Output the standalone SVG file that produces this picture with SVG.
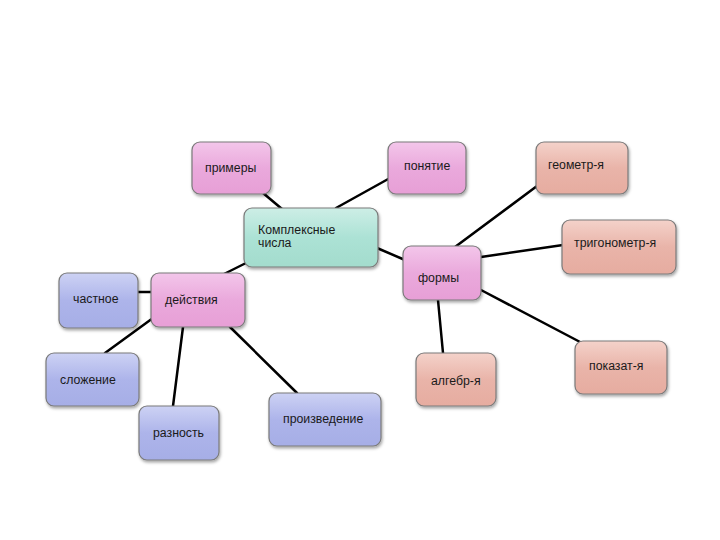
<svg xmlns="http://www.w3.org/2000/svg" width="720" height="540" viewBox="0 0 720 540">
<defs>
<linearGradient id="gPink" x1="0" y1="0" x2="0" y2="1"><stop offset="0" stop-color="#f3c6ea"/><stop offset="0.5" stop-color="#eaa9dc"/><stop offset="1" stop-color="#e79fd6"/></linearGradient>
<linearGradient id="gTeal" x1="0" y1="0" x2="0" y2="1"><stop offset="0" stop-color="#cdeee6"/><stop offset="0.5" stop-color="#ace2d5"/><stop offset="1" stop-color="#a3dccd"/></linearGradient>
<linearGradient id="gBlue" x1="0" y1="0" x2="0" y2="1"><stop offset="0" stop-color="#cdd2f4"/><stop offset="0.5" stop-color="#adb4ea"/><stop offset="1" stop-color="#a6aee6"/></linearGradient>
<linearGradient id="gSalmon" x1="0" y1="0" x2="0" y2="1"><stop offset="0" stop-color="#f4d2ca"/><stop offset="0.5" stop-color="#e9b4a9"/><stop offset="1" stop-color="#e6aca0"/></linearGradient>
<filter id="sh" x="-20%" y="-20%" width="140%" height="150%"><feDropShadow dx="1" dy="2" stdDeviation="1.5" flood-color="#000" flood-opacity="0.35"/></filter>
</defs>
<style>
.n{stroke:#7a7a7a;stroke-width:1.2;filter:url(#sh)}
.pink{fill:url(#gPink)}
.teal{fill:url(#gTeal)}
.blue{fill:url(#gBlue)}
.salmon{fill:url(#gSalmon)}
text{font-family:"Liberation Sans",Arial,sans-serif;font-size:12.3px;fill:#1a1a1a}
.c line{stroke:#000;stroke-width:2.5;stroke-linecap:round}
</style>
<g class="c" id="connectors">
<line x1="263" y1="193" x2="282" y2="209"/>
<line x1="390" y1="178" x2="336" y2="208"/>
<line x1="377" y1="248" x2="405" y2="260"/>
<line x1="248" y1="262" x2="222" y2="275"/>
<line x1="455" y1="247" x2="537" y2="186"/>
<line x1="481" y1="257" x2="563" y2="245"/>
<line x1="481" y1="290" x2="582" y2="343"/>
<line x1="438" y1="300" x2="443" y2="353"/>
<line x1="138" y1="292" x2="152" y2="292"/>
<line x1="153" y1="318" x2="105" y2="353"/>
<line x1="183" y1="327" x2="173" y2="406"/>
<line x1="230" y1="327" x2="297" y2="393"/>
</g>
<g id="n-primery"><rect class="n pink" x="192" y="142" width="79" height="52" rx="8"/><text x="205" y="172">примеры</text></g>
<g id="n-ponyatie"><rect class="n pink" x="388" y="142" width="78" height="52" rx="8"/><text x="404" y="170">понятие</text></g>
<g id="n-geometr"><rect class="n salmon" x="536" y="142" width="92" height="52" rx="8"/><text x="548" y="169">геометр-я</text></g>
<g id="n-complex"><rect class="n teal" x="244" y="208" width="134" height="59" rx="8"/><text x="258" y="234">Комплексные</text><text x="258" y="247">числа</text></g>
<g id="n-trigonometr"><rect class="n salmon" x="562" y="220" width="114" height="54" rx="8"/><text x="574" y="247">тригонометр-я</text></g>
<g id="n-formy"><rect class="n pink" x="403" y="246" width="78" height="54" rx="8"/><text x="418" y="282">формы</text></g>
<g id="n-chastnoe"><rect class="n blue" x="59" y="273" width="79" height="55" rx="8"/><text x="73" y="303">частное</text></g>
<g id="n-deystviya"><rect class="n pink" x="151" y="273" width="94" height="54" rx="8"/><text x="165" y="304">действия</text></g>
<g id="n-slozhenie"><rect class="n blue" x="46" y="353" width="93" height="53" rx="8"/><text x="60" y="384">сложение</text></g>
<g id="n-raznost"><rect class="n blue" x="139" y="406" width="80" height="54" rx="8"/><text x="153" y="437">разность</text></g>
<g id="n-proizvedenie"><rect class="n blue" x="269" y="393" width="112" height="53" rx="8"/><text x="283" y="423">произведение</text></g>
<g id="n-algebr"><rect class="n salmon" x="416" y="353" width="80" height="53" rx="8"/><text x="431" y="385">алгебр-я</text></g>
<g id="n-pokazat"><rect class="n salmon" x="575" y="341" width="92" height="53" rx="8"/><text x="589" y="370">показат-я</text></g>
</svg>
